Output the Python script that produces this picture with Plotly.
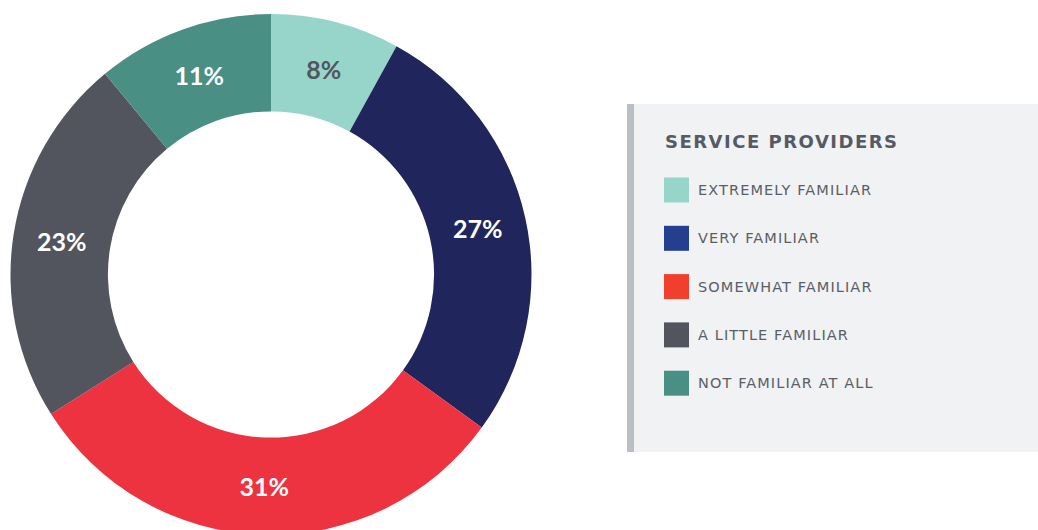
import plotly.graph_objects as go

# ---- data ----
categories = ["EXTREMELY FAMILIAR", "VERY FAMILIAR", "SOMEWHAT FAMILIAR",
              "A LITTLE FAMILIAR", "NOT FAMILIAR AT ALL"]
values = [8, 27, 31, 23, 11]
legend_title = "SERVICE PROVIDERS"

# ---- styles ----
slice_colors = ["#97d5cb", "#20265c", "#ee3340", "#52555e", "#4a8f84"]
swatch_colors = ["#97d5cb", "#253f8f", "#f03f2c", "#52555e", "#4a8f84"]
label_colors = ["#50555e", "white", "white", "white", "white"]

W, H = 1038, 546


def px(x):
    return x / W


def py(y):
    return (H - y) / H


fig = go.Figure()
fig.add_trace(go.Pie(
    values=values,
    labels=categories,
    sort=False,
    direction="clockwise",
    rotation=0,
    hole=0.626,
    marker=dict(colors=slice_colors, line=dict(width=0)),
    texttemplate="%{value}%",
    textposition="inside",
    insidetextorientation="horizontal",
    textfont=dict(family="Lato", size=25, color=label_colors, weight="bold"),
    domain=dict(x=[px(10.5), px(531.5)], y=[py(535), py(14)]),
    showlegend=False,
    hoverinfo="label+value",
))

shapes = []
annotations = []
# legend panel
shapes.append(dict(type="rect", xref="paper", yref="paper",
                   x0=px(627), x1=px(1038), y0=py(452), y1=py(104),
                   fillcolor="#f1f2f4", line=dict(width=0), layer="below"))
shapes.append(dict(type="rect", xref="paper", yref="paper",
                   x0=px(627), x1=px(634), y0=py(452), y1=py(104),
                   fillcolor="#bcbec6", line=dict(width=0)))
annotations.append(dict(text="<b>" + legend_title + "</b>", xref="paper", yref="paper",
                        x=px(663), y=py(142), xanchor="left", yanchor="middle",
                        align="left", showarrow=False,
                        font=dict(family="DejaVu Sans", size=18, color="#555a63")))
for i, (cat, col) in enumerate(zip(categories, swatch_colors)):
    cy = 190 + i * 48.3
    shapes.append(dict(type="rect", xref="paper", yref="paper",
                       x0=px(664), x1=px(689), y0=py(cy + 12.5), y1=py(cy - 12.5),
                       fillcolor=col, line=dict(width=0)))
    annotations.append(dict(text=cat, xref="paper", yref="paper",
                            x=px(696), y=py(cy), xanchor="left", yanchor="middle",
                            align="left", showarrow=False,
                            font=dict(family="DejaVu Sans", size=14.5, color="#5a5e66")))

fig.update_layout(
    width=W, height=H,
    margin=dict(l=0, r=0, t=0, b=0),
    paper_bgcolor="white",
    plot_bgcolor="white",
    shapes=shapes,
    annotations=annotations,
)

js = """
document.documentElement.style.overflow='hidden';
document.body.style.overflow='hidden';
var anns = document.querySelectorAll('.annotation-text');
anns.forEach(function(e, i){
  e.style.letterSpacing = (i === 0) ? '1.5px' : '1.1px';
  e.setAttribute('text-anchor', 'start');
});
"""
fig.write_html("out.html", post_script=js)
